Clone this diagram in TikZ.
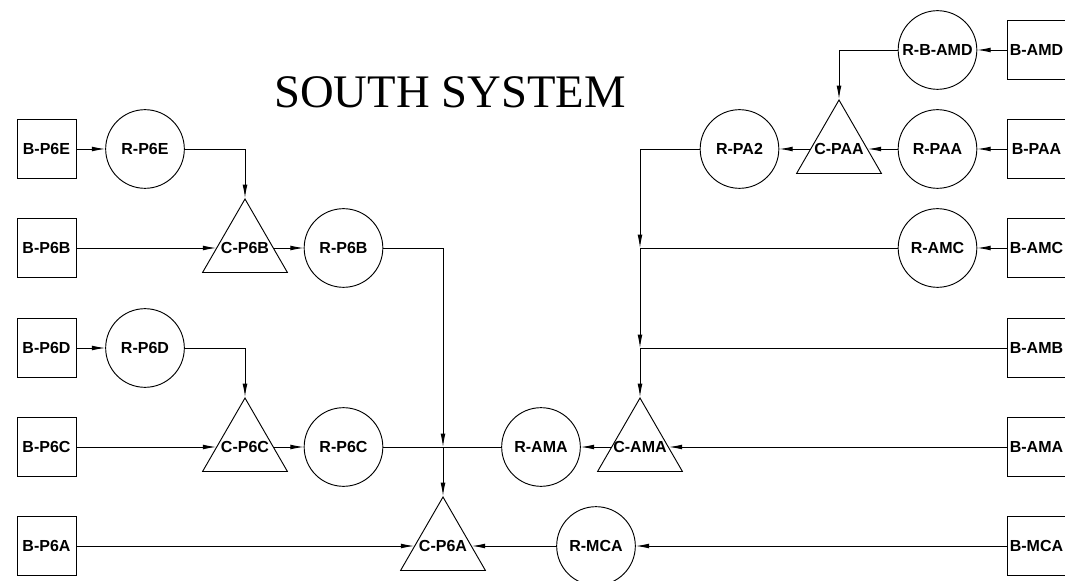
\documentclass[tikz,border=0pt]{standalone}
\usepackage{fontspec}
\setmainfont{Liberation Serif}
\setsansfont{Liberation Sans}
\usetikzlibrary{arrows.meta}
\usetikzlibrary{shapes.geometric}

\begin{document}
\begin{tikzpicture}[x=0.75pt,y=-0.75pt,
        >={Latex[length=10pt,width=3.6pt]},
        every node/.style={font=\sffamily\bfseries\fontsize{12}{14}\selectfont},
        flow/.style={line width=0.7pt},
        blk/.style={draw,line width=0.7pt,rectangle,minimum size=44.25pt,inner sep=0pt},
        res/.style={draw,line width=0.7pt,circle,minimum size=59pt,inner sep=0pt},
        comb/.style={draw,line width=0.7pt,regular polygon,regular polygon sides=3,minimum size=73.5pt,inner sep=0pt}]
        \useasboundingbox (0,0) rectangle (1065,581);
        \clip (0,0) rectangle (1065,581);
        \node[font=\rmfamily\fontsize{35}{40}\selectfont] (title) at (450,92) {SOUTH SYSTEM};
        \foreach \n/\y in {P6E/149,P6B/248,P6D/348,P6C/447,P6A/546}{
            \node[blk] (B-\n) at (46.5,\y) {B-\n};
        }
        \foreach \n/\y in {AMD/50,PAA/149,AMC/248,AMB/348,AMA/447,MCA/546}{
            \node[blk] (B-\n) at (1036.5,\y) {B-\n};
        }
        \foreach \n/\x/\y in {P6E/145/149,P6D/145/348,P6B/343.5/248,P6C/343.5/447,AMA/541/447,MCA/596/546,PA2/739.5/149,PAA/937.5/149,B-AMD/937.5/50,AMC/937.5/248}{
            \node[res] (R-\n) at (\x,\y) {R-\n};
        }
        \foreach \n/\x/\y in {P6B/245/248,P6C/245/447,P6A/443/546,AMA/640/447,PAA/839/149}{
            \node[comb,label=center:C-\n] (C-\n) at (\x,\y) {};
        }
        \coordinate (J-P6) at (C-P6A |- R-P6C);
        \coordinate (J-AMC) at (C-AMA |- R-AMC);
        \coordinate (J-AMB) at (C-AMA |- B-AMB);
        \foreach \a/\b in {B-P6E/R-P6E,B-P6B/C-P6B,C-P6B/R-P6B,B-P6D/R-P6D,B-P6C/C-P6C,C-P6C/R-P6C,
            J-P6/C-P6A,B-P6A/C-P6A,R-MCA/C-P6A,B-MCA/R-MCA,B-AMA/C-AMA,C-AMA/R-AMA,
            J-AMC/J-AMB,J-AMB/C-AMA,B-AMC/R-AMC,B-AMD/R-B-AMD,B-PAA/R-PAA,R-PAA/C-PAA,C-PAA/R-PA2}{
            \draw[flow,->] (\a) -- (\b);
        }
        \foreach \a/\b in {R-P6E/C-P6B,R-P6D/C-P6C,R-P6B/J-P6,R-B-AMD/C-PAA,R-PA2/J-AMC}{
            \draw[flow,->] (\a) -| (\b);
        }
        \draw[flow] (R-P6C) -- (R-AMA);
        \draw[flow] (R-AMC) -- (J-AMC);
        \draw[flow] (B-AMB) -- (J-AMB);
    \end{tikzpicture}
\end{document}
